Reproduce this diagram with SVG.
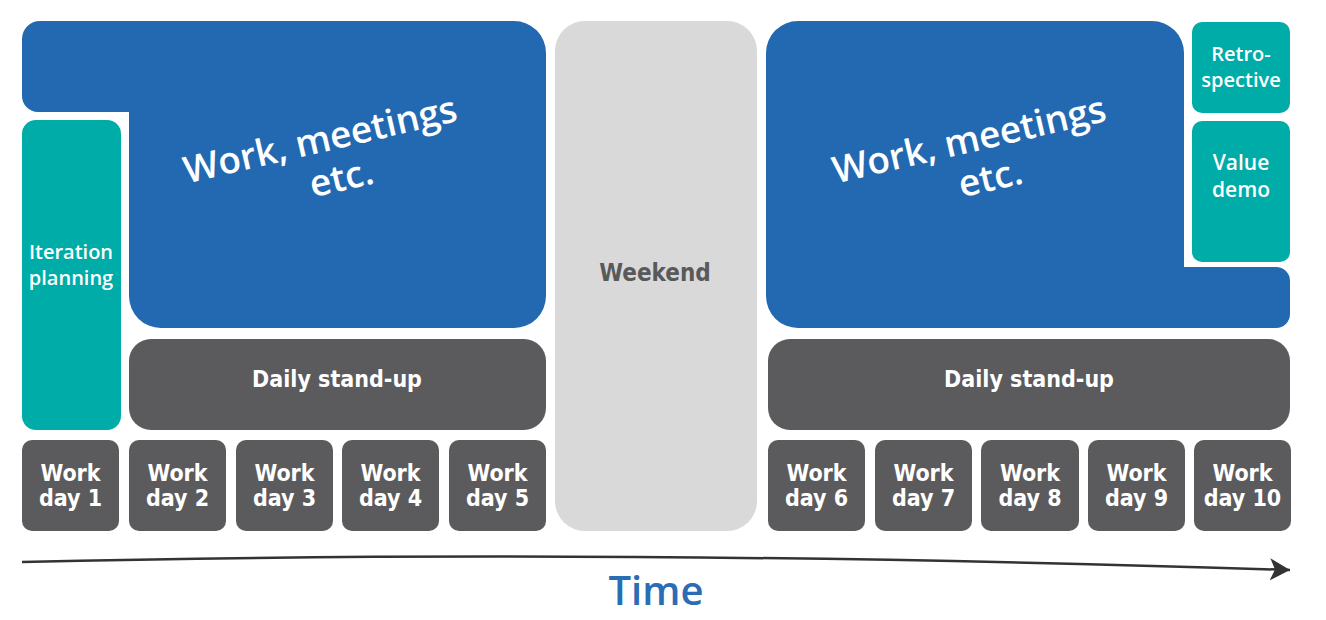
<svg xmlns="http://www.w3.org/2000/svg" width="1326" height="620" viewBox="0 0 1326 620">
<defs>
<style>
.blue{fill:#2369b1}
.teal{fill:#00aca8}
.dark{fill:#5b5a5c}
.wk{fill:#d9d9d9}
.hand{font-family:"Open Sans","Noto Sans",sans-serif;font-weight:600;fill:#fff;font-size:37px;text-anchor:middle}
.op{font-family:"Open Sans","Noto Sans",sans-serif;font-weight:600;fill:#fff;font-size:20px;text-anchor:middle}
.dj{font-family:"DejaVu Sans Condensed","DejaVu Sans",sans-serif;font-weight:bold;fill:#fff;font-size:23px;text-anchor:middle}
</style>
<marker id="ah" markerUnits="userSpaceOnUse" markerWidth="24" markerHeight="26" refX="20" refY="11" orient="auto" viewBox="0 0 24 24">
<path d="M0,0 L20,11 L0,22 L5,11 Z" fill="#333"/>
</marker>
</defs>
<rect width="1326" height="620" fill="#fff"/>

<g id="work-left">
<path class="blue" d="M40,21 H514 A32 32 0 0 1 546,53 V296 A32 32 0 0 1 514,328 H161 A32 32 0 0 1 129,296 V112 H38 A16 16 0 0 1 22,96 V39 A18 18 0 0 1 40,21 Z"/>
<g transform="translate(323,152) rotate(-13)">
<text class="hand" x="0" y="0">Work, meetings</text>
<text class="hand" x="12" y="42">etc.</text>
</g>
</g>

<g id="iteration-planning">
<rect class="teal" x="22" y="120" width="99" height="310" rx="14"/>
<text class="op" x="71" y="259">Iteration</text>
<text class="op" x="71" y="285">planning</text>
</g>

<g id="standup-left">
<rect class="dark" x="129" y="339" width="417" height="91" rx="22"/>
<text class="dj" x="337" y="387">Daily stand-up</text>
</g>

<g id="day1"><rect class="dark" x="22" y="440" width="97" height="91" rx="10"/><text class="dj" x="70.5" y="481">Work</text><text class="dj" x="70.5" y="506">day 1</text></g>
<g id="day2"><rect class="dark" x="129" y="440" width="97" height="91" rx="10"/><text class="dj" x="177.5" y="481">Work</text><text class="dj" x="177.5" y="506">day 2</text></g>
<g id="day3"><rect class="dark" x="236" y="440" width="97" height="91" rx="10"/><text class="dj" x="284.5" y="481">Work</text><text class="dj" x="284.5" y="506">day 3</text></g>
<g id="day4"><rect class="dark" x="342" y="440" width="97" height="91" rx="10"/><text class="dj" x="390.5" y="481">Work</text><text class="dj" x="390.5" y="506">day 4</text></g>
<g id="day5"><rect class="dark" x="449" y="440" width="97" height="91" rx="10"/><text class="dj" x="497.5" y="481">Work</text><text class="dj" x="497.5" y="506">day 5</text></g>

<g id="weekend">
<rect class="wk" x="555" y="21" width="202" height="510" rx="30"/>
<text class="dj" x="655" y="281" style="fill:#595959;font-size:24px">Weekend</text>
</g>

<g id="work-right">
<path class="blue" d="M798,21 H1152 A32 32 0 0 1 1184,53 V267 H1276 A14 14 0 0 1 1290,281 V314 A14 14 0 0 1 1276,328 H798 A32 32 0 0 1 766,296 V53 A32 32 0 0 1 798,21 Z"/>
<g transform="translate(972,152) rotate(-13)">
<text class="hand" x="0" y="0">Work, meetings</text>
<text class="hand" x="12" y="42">etc.</text>
</g>
</g>

<g id="retrospective">
<rect class="teal" x="1192" y="22" width="98" height="91" rx="10"/>
<text class="op" x="1241" y="61">Retro-</text>
<text class="op" x="1241" y="87">spective</text>
</g>

<g id="value-demo">
<rect class="teal" x="1192" y="121" width="98" height="141" rx="10"/>
<text class="op" x="1241" y="170" style="font-size:21px">Value</text>
<text class="op" x="1241" y="197" style="font-size:21px">demo</text>
</g>

<g id="standup-right">
<rect class="dark" x="768" y="339" width="522" height="91" rx="22"/>
<text class="dj" x="1029" y="387">Daily stand-up</text>
</g>

<g id="day6"><rect class="dark" x="768" y="440" width="97" height="91" rx="10"/><text class="dj" x="816.5" y="481">Work</text><text class="dj" x="816.5" y="506">day 6</text></g>
<g id="day7"><rect class="dark" x="875" y="440" width="97" height="91" rx="10"/><text class="dj" x="923.5" y="481">Work</text><text class="dj" x="923.5" y="506">day 7</text></g>
<g id="day8"><rect class="dark" x="981" y="440" width="98" height="91" rx="10"/><text class="dj" x="1030" y="481">Work</text><text class="dj" x="1030" y="506">day 8</text></g>
<g id="day9"><rect class="dark" x="1088" y="440" width="97" height="91" rx="10"/><text class="dj" x="1136.5" y="481">Work</text><text class="dj" x="1136.5" y="506">day 9</text></g>
<g id="day10"><rect class="dark" x="1194" y="440" width="97" height="91" rx="10"/><text class="dj" x="1242.5" y="481">Work</text><text class="dj" x="1242.5" y="506">day 10</text></g>

<g id="connectors">
<path d="M22,562 C400,553 800,554 1290,570" fill="none" stroke="#333" stroke-width="2.5" marker-end="url(#ah)"/>
</g>

<g id="time-label">
<text x="656" y="605" style="font-family:'Open Sans','Noto Sans',sans-serif;font-weight:600;font-size:40px;fill:#2a6db5;text-anchor:middle">Time</text>
</g>
</svg>
